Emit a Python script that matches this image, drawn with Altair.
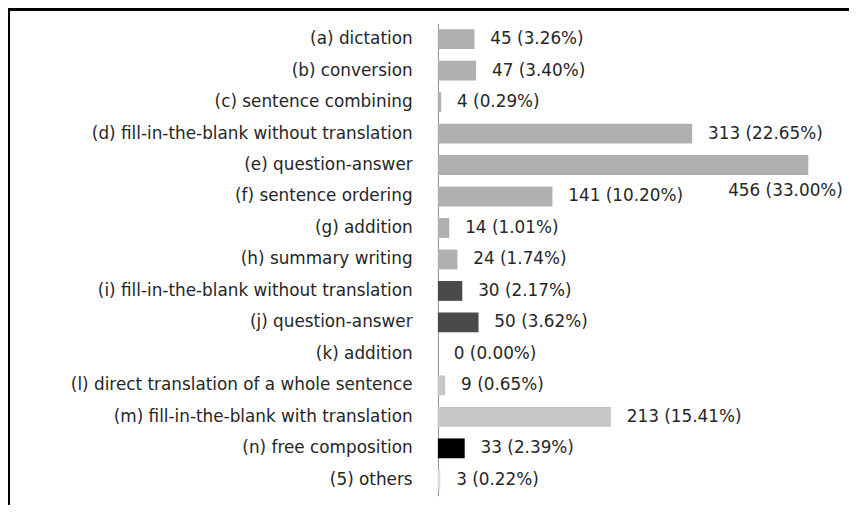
import altair as alt
import pandas as pd

categories = [
    "(a) dictation",
    "(b) conversion",
    "(c) sentence combining",
    "(d) fill-in-the-blank without translation",
    "(e) question-answer",
    "(f) sentence ordering",
    "(g) addition",
    "(h) summary writing",
    "(i) fill-in-the-blank without translation",
    "(j) question-answer",
    "(k) addition",
    "(l) direct translation of a whole sentence ",
    "(m) fill-in-the-blank with translation",
    "(n) free composition",
    "(5) others",
]
counts = [45, 47, 4, 313, 456, 141, 14, 24, 30, 50, 0, 9, 213, 33, 3]
percents = ["3.26%", "3.40%", "0.29%", "22.65%", "33.00%", "10.20%", "1.01%", "1.74%",
            "2.17%", "3.62%", "0.00%", "0.65%", "15.41%", "2.39%", "0.22%"]
groups = ["g1"] * 8 + ["g2", "g2", "g1", "g3", "g3", "g4", "g5"]
group_names = ["g1", "g2", "g3", "g4", "g5"]
group_colors = ["#b0b0b0", "#4a4a4a", "#c6c6c6", "#000000", "#d9d9d9"]

df = pd.DataFrame({
    "cat": categories,
    "count": counts,
    "pct": percents,
    "group": groups,
})
df["label"] = df["count"].astype(str) + " (" + df["pct"] + ")"

FONT = "DejaVu Sans"
FS = 17
TXT = "#262626"

y_enc = alt.Y(
    "cat:N",
    sort=categories,
    scale=alt.Scale(paddingInner=0.37, paddingOuter=0.19),
    axis=alt.Axis(
        title=None, ticks=False, labelFontSize=FS, labelFont=FONT,
        labelColor=TXT, labelPadding=26, domainColor="#8c8c8c",
        domainWidth=1, labelLimit=500,
    ),
)
x_enc = alt.X("count:Q", scale=alt.Scale(domain=[0, 500], nice=False), axis=None)

bars = alt.Chart(df).mark_bar().encode(
    x=x_enc,
    y=y_enc,
    color=alt.Color("group:N", scale=alt.Scale(domain=group_names, range=group_colors), legend=None),
)

labels = alt.Chart(df).transform_filter(alt.datum.cat != "(e) question-answer").mark_text(
    align="left", baseline="middle", dx=16, fontSize=FS, font=FONT, color=TXT
).encode(x="count:Q", y=alt.Y("cat:N", sort=categories), text="label:N")

label_e = alt.Chart(df).transform_filter(alt.datum.cat == "(e) question-answer").mark_text(
    align="center", baseline="middle", dx=-23, dy=26, fontSize=FS, font=FONT, color=TXT
).encode(x="count:Q", y=alt.Y("cat:N", sort=categories), text="label:N")

border_top = alt.Chart(df).mark_rule(color="#000000", strokeWidth=2, clip=False).encode(
    x=alt.value(-434), x2=alt.value(420), y=alt.value(-14)
)
border_left = alt.Chart(df).mark_rule(color="#000000", strokeWidth=2, clip=False).encode(
    x=alt.value(-433), y=alt.value(-15), y2=alt.value(490)
)

chart = alt.layer(bars, labels, label_e, border_top, border_left).properties(
    width=410, height=477,
    autosize=alt.AutoSizeParams(type="none"),
    padding={"left": 434, "top": 13, "right": 5, "bottom": 7},
    background="white",
).configure_view(stroke="transparent", strokeWidth=0)

chart.save("out.html", embed_options={"renderer": "svg", "actions": False})
